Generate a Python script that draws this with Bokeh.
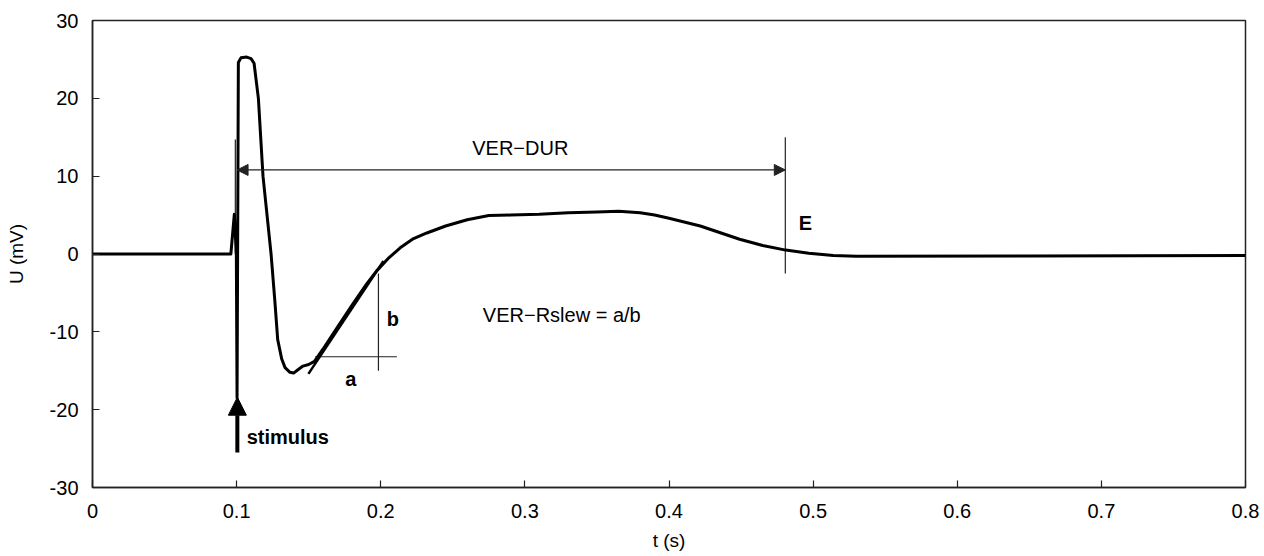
from bokeh.plotting import figure
from bokeh.models import Range1d, FixedTicker, Arrow, NormalHead
from bokeh.core.properties import value
from bokeh.embed import file_html
from bokeh.resources import INLINE

# ---- data -----------------------------------------------------------------
t_s = [0.000, 0.0960, 0.0984, 0.0998, 0.1003, 0.1012, 0.1030, 0.1070, 0.1100,
       0.1121, 0.1151, 0.1183, 0.1239, 0.1265, 0.1285, 0.1313, 0.1336, 0.1370,
       0.1395, 0.1430, 0.1460, 0.1500, 0.1540, 0.1600, 0.1700, 0.1800, 0.1900,
       0.1970, 0.2050, 0.2135, 0.2220, 0.2320, 0.2450, 0.2600, 0.2750, 0.2900,
       0.3100, 0.3300, 0.3500, 0.3650, 0.3800, 0.3900, 0.4000, 0.4217, 0.4490,
       0.4650, 0.4810, 0.4970, 0.5140, 0.5300, 0.6500, 0.8000]
u_mV = [0.0, 0.0, 5.1, 0.0, -18.5, 24.6, 25.2, 25.3, 25.1,
        24.5, 20.0, 10.0, 0.0, -6.0, -11.0, -13.5, -14.6, -15.2,
        -15.3, -14.8, -14.4, -14.2, -13.8, -12.2, -9.4, -6.6, -3.9,
        -2.2, -0.6, 0.8, 1.9, 2.7, 3.6, 4.4, 4.95, 5.0,
        5.1, 5.3, 5.4, 5.5, 5.3, 5.0, 4.6, 3.6, 1.9,
        1.1, 0.5, 0.1, -0.2, -0.3, -0.25, -0.2]

x_ticks = [0, 0.1, 0.2, 0.3, 0.4, 0.5, 0.6, 0.7, 0.8]
x_tick_labels = ["0", "0.1", "0.2", "0.3", "0.4", "0.5", "0.6", "0.7", "0.8"]
y_ticks = [-30, -20, -10, 0, 10, 20, 30]
y_tick_labels = ["-30", "-20", "-10", "0", "10", "20", "30"]

# annotation geometry (data units)
dur_start, dur_end, dur_y = 0.1003, 0.4807, 10.8
dur_left_x, dur_left_top, dur_left_bottom = 0.0991, 14.7, 0.0
dur_right_top, dur_right_bottom = 15.0, -2.5
tangent_x = [0.1498, 0.2019]
tangent_y = [-15.4, -0.9]
a_line_x = [0.1545, 0.2112]
a_line_y = [-13.2, -13.2]
b_line_x = [0.1984, 0.1984]
b_line_y = [-2.5, -15.0]
stim_x, stim_y0, stim_y1 = 0.1005, -25.5, -18.4

plain_x = [0.2968, 0.3256]
plain_y = [13.6, -7.8]
plain_text = ["VER\u2212DUR", "VER\u2212Rslew = a/b"]
bold_x = [0.1070, 0.2084, 0.1792, 0.4900]
bold_y = [-23.5, -8.4, -16.1, 3.95]
bold_text = ["stimulus", "b", "a", "E"]
bold_align = ["left", "center", "center", "left"]

FONT = "Liberation Sans"

p = figure(width=1264, height=556, output_backend="svg", toolbar_location=None,
           x_range=Range1d(0, 0.8), y_range=Range1d(-30, 30),
           min_border_left=92, min_border_right=19, min_border_top=20,
           min_border_bottom=69)
p.grid.visible = False
p.outline_line_color = "#222222"
p.outline_line_width = 1.5
p.background_fill_color = "white"
p.border_fill_color = "white"

for ax in (p.xaxis[0], p.yaxis[0]):
    ax.major_tick_in = 7
    ax.major_tick_out = 0
    ax.minor_tick_line_color = None
    ax.axis_line_color = "#222222"
    ax.axis_line_width = 1.5
    ax.major_tick_line_color = "#222222"
    ax.major_tick_line_width = 1.2
    ax.major_label_text_font = FONT
    ax.major_label_text_font_size = "20px"
    ax.major_label_text_color = "black"
    ax.axis_label_text_font = FONT
    ax.axis_label_text_font_size = "19px"
    ax.axis_label_text_font_style = "normal"
    ax.axis_label_text_color = "black"

p.xaxis[0].ticker = FixedTicker(ticks=x_ticks)
p.xaxis[0].major_label_overrides = dict(zip(x_ticks, x_tick_labels))
p.yaxis[0].ticker = FixedTicker(ticks=y_ticks)
p.yaxis[0].major_label_overrides = dict(zip(y_ticks, y_tick_labels))
p.xaxis[0].axis_label = "t (s)"
p.yaxis[0].axis_label = "U (mV)"
p.xaxis[0].major_label_standoff = 16
p.xaxis[0].axis_label_standoff = 9
p.yaxis[0].major_label_standoff = 14
p.yaxis[0].axis_label_standoff = 20

ann = "#222222"
# thin annotation lines
p.segment(x0=[dur_left_x, dur_end], y0=[dur_left_top, dur_right_top],
          x1=[dur_left_x, dur_end], y1=[dur_left_bottom, dur_right_bottom],
          line_color=ann, line_width=1.2)
p.line(a_line_x, a_line_y, line_color=ann, line_width=1.2)
p.line(b_line_x, b_line_y, line_color=ann, line_width=1.2)

# VER-DUR double arrow
p.add_layout(Arrow(x_start=dur_start, y_start=dur_y, x_end=dur_end, y_end=dur_y,
                   line_color=ann, line_width=1.2,
                   start=NormalHead(size=11, fill_color=ann, line_color=ann, line_width=1),
                   end=NormalHead(size=11, fill_color=ann, line_color=ann, line_width=1)))

# curve
p.line(t_s, u_mV, line_color="black", line_width=3, line_join="round")
# tangent
p.line(tangent_x, tangent_y, line_color="black", line_width=2.5)

# stimulus arrow
p.add_layout(Arrow(x_start=stim_x, y_start=stim_y0, x_end=stim_x, y_end=stim_y1,
                   line_color="black", line_width=4,
                   end=NormalHead(size=18, fill_color="black", line_color="black", line_width=1)))

p.text(x=plain_x, y=plain_y, text=plain_text, text_align="center",
       text_baseline="middle", text_font=value(FONT), text_font_size="20px",
       text_color="black")
p.text(x=bold_x, y=bold_y, text=bold_text, text_align=bold_align,
       text_baseline="middle", text_font=value(FONT), text_font_size="20px",
       text_font_style="bold", text_color="black")

open("out.html", "w").write(file_html(p, INLINE))
